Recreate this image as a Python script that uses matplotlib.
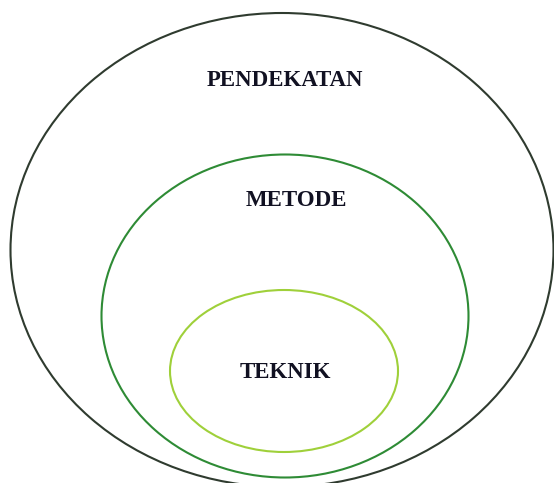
import matplotlib
matplotlib.use('Agg')
from matplotlib import pyplot as plt
from matplotlib.patches import Ellipse

# nested levels, outer to inner
labels = ['PENDEKATAN', 'METODE', 'TEKNIK']
centers_x = [282, 285, 284]
centers_y = [250, 316, 371]
widths = [543, 367, 228]
heights = [474, 323, 162]
label_x = [285, 296, 285]
label_y = [80, 200, 373]
colors = ['#2f3b2f', '#2e8b35', '#9fd03a']

fig = plt.figure(figsize=(5.54, 4.83), dpi=100)
ax = fig.add_axes([0, 0, 1, 1])
ax.set_xlim(0, 554)
ax.set_ylim(483, 0)
ax.set_aspect('auto')
ax.axis('off')

for i in range(len(labels)):
    e = Ellipse((centers_x[i], centers_y[i]), widths[i], heights[i],
                fill=False, edgecolor=colors[i], linewidth=1.5)
    ax.add_patch(e)
    ax.text(label_x[i], label_y[i], labels[i], ha='center', va='center',
            fontsize=16.5, fontweight='bold', family='Liberation Serif',
            color='#111122')

fig.savefig('out.png', dpi=100)
